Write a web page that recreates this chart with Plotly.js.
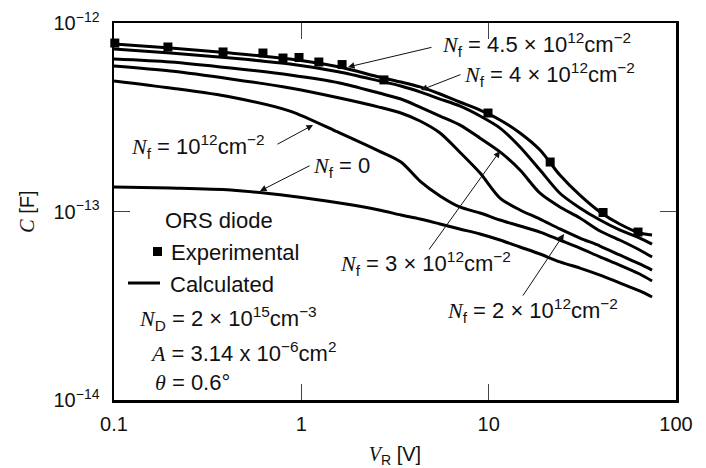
<!DOCTYPE html>
<html>
<head>
<meta charset="utf-8">
<script src="https://cdn.plot.ly/plotly-3.0.1.min.js"></script>
<style>html,body{margin:0;padding:0;background:#fff;}#chart{width:706px;height:468px;}</style>
</head>
<body>
<div id="chart"></div>
<script>
// Reverse bias voltage grid for calculated curves [V]
const vCalc = [0.1, 0.2, 0.42, 0.87, 1.6, 2.6, 3.4, 4.3, 5.5, 7.0, 9.0, 11.5, 14.7, 18.8, 24, 30.7, 39.3, 50, 64, 74.5];
// Calculated capacitance [F] for each fixed charge density Nf
const cNf45 = [7.74e-13, 7.37e-13, 6.93e-13, 6.44e-13, 5.84e-13, 5.17e-13, 4.86e-13, 4.58e-13, 4.20e-13, 3.81e-13, 3.45e-13, 3.06e-13, 2.61e-13, 2.12e-13, 1.56e-13, 1.22e-13, 9.94e-14, 8.58e-14, 7.69e-14, 7.50e-14];
const cNf4 = [7.28e-13, 6.93e-13, 6.52e-13, 6.06e-13, 5.50e-13, 4.93e-13, 4.63e-13, 4.31e-13, 3.95e-13, 3.63e-13, 3.21e-13, 2.77e-13, 2.20e-13, 1.66e-13, 1.25e-13, 1.044e-13, 9.01e-14, 7.98e-14, 7.23e-14, 6.72e-14];
const cNf3 = [6.44e-13, 6.21e-13, 5.77e-13, 5.30e-13, 4.81e-13, 4.25e-13, 3.95e-13, 3.58e-13, 3.21e-13, 2.88e-13, 2.45e-13, 2.07e-13, 1.66e-13, 1.25e-13, 1.057e-13, 9.24e-14, 7.88e-14, 7.06e-14, 6.25e-14, 5.74e-14];
const cNf2 = [5.91e-13, 5.56e-13, 5.05e-13, 4.52e-13, 4.00e-13, 3.58e-13, 3.33e-13, 3.02e-13, 2.61e-13, 2.07e-13, 1.60e-13, 1.179e-13, 1.019e-13, 9.12e-14, 8.08e-14, 7.23e-14, 6.56e-14, 5.88e-14, 5.27e-14, 4.89e-14];
const cNf1 = [4.93e-13, 4.52e-13, 4.05e-13, 3.41e-13, 2.61e-13, 2.09e-13, 1.83e-13, 1.45e-13, 1.209e-13, 1.057e-13, 9.82e-14, 9.01e-14, 8.38e-14, 7.78e-14, 7.06e-14, 6.40e-14, 5.74e-14, 5.20e-14, 4.66e-14, 4.28e-14];
const cNf0 = [1.349e-13, 1.332e-13, 1.300e-13, 1.209e-13, 1.110e-13, 1.019e-13, 9.58e-14, 9.12e-14, 8.58e-14, 8.08e-14, 7.60e-14, 7.06e-14, 6.48e-14, 5.95e-14, 5.40e-14, 5.01e-14, 4.60e-14, 4.18e-14, 3.79e-14, 3.52e-14];
// Experimental points
const vExp = [0.101, 0.194, 0.382, 0.624, 0.798, 0.972, 1.24, 1.65, 2.76, 9.92, 21.3, 40.8, 62.7];
const cExp = [7.83e-13, 7.46e-13, 7.02e-13, 6.93e-13, 6.52e-13, 6.56e-13, 6.21e-13, 6.02e-13, 4.99e-13, 3.33e-13, 1.83e-13, 9.88e-14, 7.78e-14];
// Ticks
const xTickVals = [0.1, 1, 10, 100];
const xTickText = ['0.1', '1', '10', '100'];
const yTickVals = [1e-14, 1e-13, 1e-12];
const yTickText = ['10<sup>−14</sup>', '10<sup>−13</sup>', '10<sup>−12</sup>'];

const SANS = 'Liberation Sans, Arial, sans-serif';
const SERIFI = (s) => '<span style="font-family:\'Liberation Serif\',serif"><i>' + s + '</i></span>';
const NF = SERIFI('N') + '<sub>f</sub>';

// plot area in pixels
const L = 114, R = 676, T = 23, B = 400;
const px = (x) => (x - L) / (R - L);
const py = (y) => (B - y) / (B - T);

const curveList = [cNf45, cNf4, cNf3, cNf2, cNf1, cNf0];
const traces = curveList.map(c => ({
  x: vCalc, y: c, type: 'scatter', mode: 'lines',
  line: {color: '#000', width: 3, shape: 'spline', smoothing: 0.8},
  hoverinfo: 'skip', showlegend: false
}));
traces.push({
  x: vExp, y: cExp, type: 'scatter', mode: 'markers',
  marker: {symbol: 'square', size: 9, color: '#000'},
  cliponaxis: false, showlegend: false
});

function arrow(tipX, tipY, tailX, tailY) {
  return {xref: 'paper', yref: 'paper', x: px(tipX), y: py(tipY),
    ax: tailX - tipX, ay: tailY - tipY, axref: 'pixel', ayref: 'pixel',
    text: '', showarrow: true, arrowhead: 2, arrowsize: 1.3, arrowwidth: 1,
    arrowcolor: '#111', standoff: 0, startstandoff: 0};
}
function label(text, x, y) {
  return {xref: 'paper', yref: 'paper', x: px(x), y: py(y), xanchor: 'left', yanchor: 'middle',
    text: text, showarrow: false, font: {family: SANS, size: 22, color: '#111'}};
}

const annotations = [
  arrow(348, 67, 433, 47),
  arrow(421, 90, 462, 74),
  arrow(313, 125, 276, 145),
  arrow(260, 191, 311, 165),
  arrow(500, 151, 428, 251),
  arrow(564, 234, 522, 297),
  label(NF + ' = 4.5 × 10<sup>12</sup>cm<sup>−2</sup>', 440, 45),
  label(NF + ' = 4 × 10<sup>12</sup>cm<sup>−2</sup>', 462, 74),
  label(NF + ' = 10<sup>12</sup>cm<sup>−2</sup>', 129, 146),
  label(NF + ' = 0', 311, 167),
  label(NF + ' = 3 × 10<sup>12</sup>cm<sup>−2</sup>', 338, 263),
  label(NF + ' = 2 × 10<sup>12</sup>cm<sup>−2</sup>', 445, 310),
  label('ORS diode', 163, 220),
  label('Experimental', 169, 252),
  label('Calculated', 168, 284),
  label(SERIFI('N') + '<sub>D</sub> = 2 × 10<sup>15</sup>cm<sup>−3</sup>', 137, 318),
  label(SERIFI('A') + ' = 3.14 x 10<sup>−6</sup>cm<sup>2</sup>', 148, 352),
  label(SERIFI('θ') + ' = 0.6°', 153, 382)
];

const shapes = [
  {type: 'rect', xref: 'paper', yref: 'paper', x0: px(153), x1: px(162), y0: py(247), y1: py(256),
   fillcolor: '#000', line: {width: 0}},
  {type: 'line', xref: 'paper', yref: 'paper', x0: px(128), x1: px(160), y0: py(283), y1: py(283),
   line: {color: '#000', width: 3}}
];

const axisCommon = {
  type: 'log', showgrid: false, zeroline: false,
  showline: true, linecolor: '#000', linewidth: 2.5, mirror: 'ticks',
  ticks: 'inside', ticklen: 16, tickwidth: 1.3, tickcolor: '#444',
  tickfont: {family: SANS, size: 20, color: '#111'}, tickmode: 'array'
};

const layout = {
  width: 706, height: 468,
  margin: {l: L, r: 706 - R, t: T, b: 468 - B, pad: 0},
  paper_bgcolor: '#fff', plot_bgcolor: '#fff',
  font: {family: SANS, size: 20, color: '#111'},
  xaxis: Object.assign({}, axisCommon, {
    range: [-1, 2], tickvals: xTickVals, ticktext: xTickText, ticklabelstandoff: 4,
    title: {text: SERIFI('V') + '<sub>R</sub> [V]', font: {family: SANS, size: 20, color: '#111'}, standoff: 14}
  }),
  yaxis: Object.assign({}, axisCommon, {
    range: [-14, -12], tickvals: yTickVals, ticktext: yTickText, ticklabelstandoff: 8,
    title: {text: SERIFI('C') + ' [F]', font: {family: SANS, size: 20, color: '#111'}, standoff: 14}
  }),
  annotations: annotations,
  shapes: shapes,
  showlegend: false
};

Plotly.newPlot('chart', traces, layout, {displayModeBar: false, staticPlot: true});
</script>
</body>
</html>
